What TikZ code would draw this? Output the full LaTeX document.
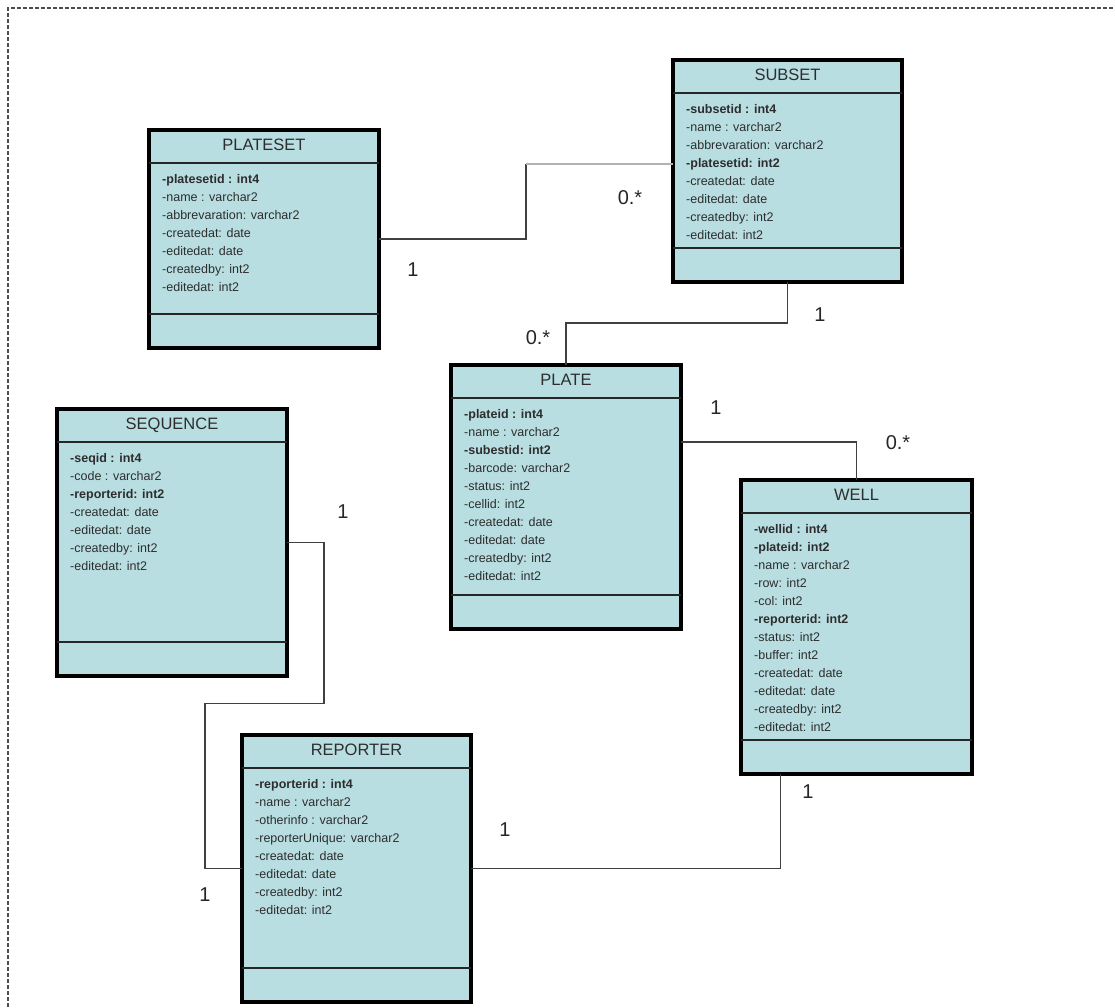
\documentclass[tikz,border=0pt]{standalone}
\usepackage{fontspec}
\setmainfont{Liberation Sans}
\usetikzlibrary{positioning}

\definecolor{classfill}{RGB}{185,222,226}
\definecolor{textgray}{RGB}{45,45,45}

\begin{document}
\begin{tikzpicture}[x=1pt,y=-1pt,
    classbox/.style={rectangle, draw=black, line width=4pt, fill=classfill,
                     inner sep=0pt, outer sep=0pt, anchor=north west},
    classname/.style={font=\fontsize{16.5}{18}\selectfont, text=textgray, inner sep=0pt},
    sepline/.style={line width=1.5pt, draw=black!85},
    attrs/.style={font=\fontsize{12.5}{18}\selectfont, text=textgray, align=left,
                  inner sep=0pt, anchor=north west},
    link/.style={draw=black!75, line width=1.2pt},
    faintlink/.style={draw=black!30, line width=1.2pt},
    mult/.style={font=\fontsize{20}{24}\selectfont, text=black!85, inner sep=0pt}]

    \useasboundingbox (0,0) rectangle (1115,1007);
    \draw[black!70, line width=1.2pt, dash pattern=on 4pt off 2pt] (8,1007) -- (8,8) -- (1115,8);

    % class boxes
    \node[classbox, minimum width=230pt, minimum height=218pt] (plateset) at (149,130) {};
    \node[classbox, minimum width=229pt, minimum height=222pt] (subset)   at (673,60)  {};
    \node[classbox, minimum width=230pt, minimum height=264pt] (plate)    at (451,365) {};
    \node[classbox, minimum width=230pt, minimum height=267pt] (sequence) at (57,409)  {};
    \node[classbox, minimum width=231pt, minimum height=294pt] (well)     at (741,480) {};
    \node[classbox, minimum width=229pt, minimum height=267pt] (reporter) at (242,735) {};

    % titles
    \node[classname, below=9pt of plateset.north] (plateset-name) {PLATESET};
    \node[classname, below=9pt of subset.north]   (subset-name)   {SUBSET};
    \node[classname, below=9pt of plate.north]    (plate-name)    {PLATE};
    \node[classname, below=9pt of sequence.north] (sequence-name) {SEQUENCE};
    \node[classname, below=9pt of well.north]     (well-name)     {WELL};
    \node[classname, below=9pt of reporter.north] (reporter-name) {REPORTER};

    % compartment lines
    \foreach \cls in {plateset,subset,plate,sequence,well,reporter} {
        \draw[sepline] ([yshift=-33pt]\cls.north west) -- ([yshift=-33pt]\cls.north east);
        \draw[sepline] ([yshift=34pt]\cls.south west) -- ([yshift=34pt]\cls.south east);
    }

    % attributes
    \node[attrs] (plateset-attrs) at ([xshift=13pt,yshift=-44pt]plateset.north west)
        {\textbf{-platesetid : int4}\\ -name : varchar2\\ -abbrevaration: varchar2\\
         -createdat: date\\ -editedat: date\\ -createdby: int2\\ -editedat: int2};
    \node[attrs] (subset-attrs) at ([xshift=13pt,yshift=-44pt]subset.north west)
        {\textbf{-subsetid : int4}\\ -name : varchar2\\ -abbrevaration: varchar2\\
         \textbf{-platesetid: int2}\\ -createdat: date\\ -editedat: date\\
         -createdby: int2\\ -editedat: int2};
    \node[attrs] (plate-attrs) at ([xshift=13pt,yshift=-44pt]plate.north west)
        {\textbf{-plateid : int4}\\ -name : varchar2\\ \textbf{-subestid: int2}\\
         -barcode: varchar2\\ -status: int2\\ -cellid: int2\\ -createdat: date\\
         -editedat: date\\ -createdby: int2\\ -editedat: int2};
    \node[attrs] (sequence-attrs) at ([xshift=13pt,yshift=-44pt]sequence.north west)
        {\textbf{-seqid : int4}\\ -code : varchar2\\ \textbf{-reporterid: int2}\\
         -createdat: date\\ -editedat: date\\ -createdby: int2\\ -editedat: int2};
    \node[attrs] (well-attrs) at ([xshift=13pt,yshift=-44pt]well.north west)
        {\textbf{-wellid : int4}\\ \textbf{-plateid: int2}\\ -name : varchar2\\
         -row: int2\\ -col: int2\\ \textbf{-reporterid: int2}\\ -status: int2\\
         -buffer: int2\\ -createdat: date\\ -editedat: date\\ -createdby: int2\\
         -editedat: int2};
    \node[attrs] (reporter-attrs) at ([xshift=13pt,yshift=-44pt]reporter.north west)
        {\textbf{-reporterid : int4}\\ -name : varchar2\\ -otherinfo : varchar2\\
         -reporterUnique: varchar2\\ -createdat: date\\ -editedat: date\\
         -createdby: int2\\ -editedat: int2};

    % associations
    \coordinate (ps-corner) at (526,164);
    \draw[link] (plateset.east) -| (ps-corner);
    \draw[faintlink] (ps-corner) -- ([yshift=-104pt]subset.north west);
    \draw[link] (subset.south) -- ++(0,41) -| (plate.north);
    \draw[link] ([yshift=-77pt]plate.north east) -| (well.north);
    \draw[link] (sequence.east) -- ++(37,0) -- ++(0,161) -- ++(-119,0) |- (reporter.west);
    \draw[link] (reporter.east) -| ([xshift=-76pt]well.south);

    % multiplicities
    \node[mult] (m-ps)   at (413,270) {1};
    \node[mult] (m-ss1)  at (630,198) {0.*};
    \node[mult] (m-ss2)  at (820,315) {1};
    \node[mult] (m-pl1)  at (538,338) {0.*};
    \node[mult] (m-pl2)  at (716,408) {1};
    \node[mult] (m-wl1)  at (898,443) {0.*};
    \node[mult] (m-sq)   at (343,512) {1};
    \node[mult] (m-rp1)  at (205,895) {1};
    \node[mult] (m-rp2)  at (505,830) {1};
    \node[mult] (m-wl2)  at (808,792) {1};
\end{tikzpicture}
\end{document}
